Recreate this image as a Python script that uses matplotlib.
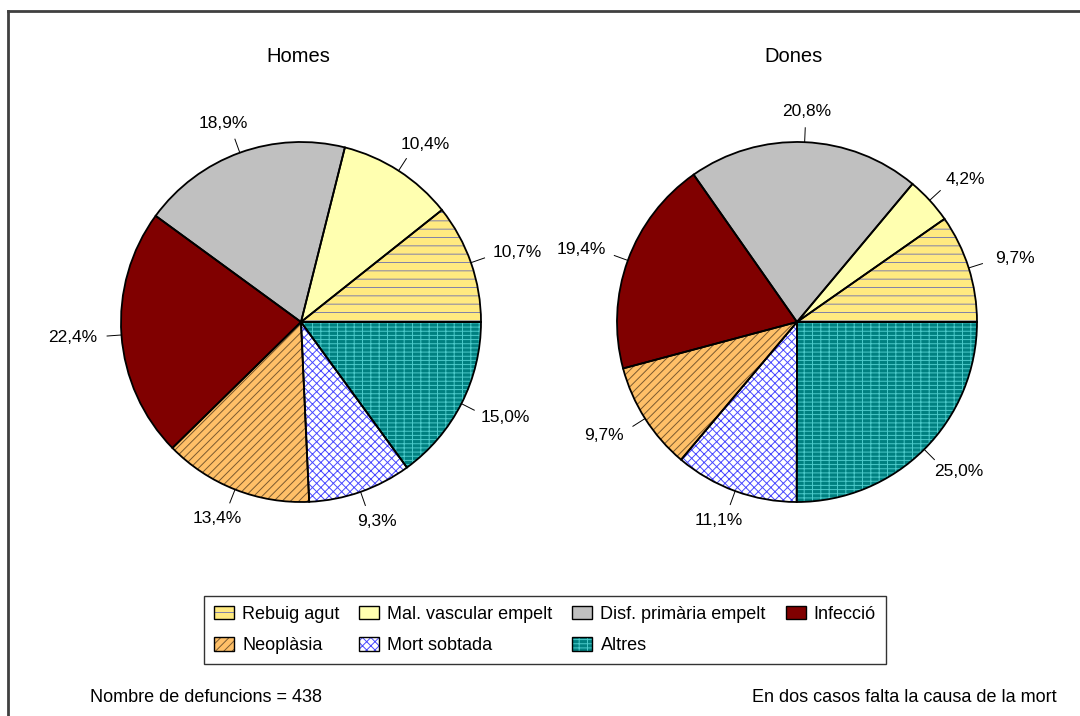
import numpy as np
import matplotlib
matplotlib.use("Agg")
import matplotlib.pyplot as plt
from matplotlib.patches import Patch
from matplotlib.lines import Line2D

plt.rcParams['font.family'] = ['Liberation Sans', 'DejaVu Sans']
plt.rcParams['hatch.linewidth'] = 0.7

# data
categories = ['Rebuig agut', 'Mal. vascular empelt', 'Disf. primària empelt', 'Infecció',
              'Neoplàsia', 'Mort sobtada', 'Altres']
homes = [10.7, 10.4, 18.9, 22.4, 13.4, 9.3, 15.0]
dones = [9.7, 4.2, 20.8, 19.4, 9.7, 11.1, 25.0]
titles = ['Homes', 'Dones']
note_left = 'Nombre de defuncions = 438'
note_right = 'En dos casos falta la causa de la mort'

# styles
faces = ['#FFEA80', '#FFFFB0', '#C0C0C0', '#800000', '#FFC068', '#FFFFFF', '#008080']
hatch_cols = ['#8080A8', '#FFFFB0', '#C0C0C0', '#800000', '#7A5A30', '#4848FF', '#4CCACA']
hatches = ['--', None, None, None, '////', 'xxxx', '----||']

W, H = 1080, 716
fig = plt.figure(figsize=(W / 100, H / 100), dpi=100)
ax = fig.add_axes([0, 0, 1, 1])

centers = [(301, H - 322), (797, H - 322)]
R = 180


def draw_pie(vals, center, title):
    wedges, _ = ax.pie(vals, colors=faces, startangle=0, counterclock=True,
                       center=center, radius=R, hatch=hatches,
                       wedgeprops=dict(linewidth=0))
    for w, hc in zip(wedges, hatch_cols):
        w.set_edgecolor(hc)
    outl, _ = ax.pie(vals, colors=faces, startangle=0, counterclock=True,
                     center=center, radius=R,
                     wedgeprops=dict(fill=False, edgecolor='black', linewidth=1.3))
    cx, cy = center
    for w, v in zip(outl, vals):
        th = np.deg2rad((w.theta1 + w.theta2) / 2)
        c, s = np.cos(th), np.sin(th)
        ax.plot([cx + R * c, cx + 1.08 * R * c], [cy + R * s, cy + 1.08 * R * s],
                color='black', lw=0.7)
        tx = cx + 1.1 * R * c + 31 * c
        ty = cy + 1.1 * R * s + 13 * s
        ax.text(tx, ty, f'{v:.1f}%'.replace('.', ','), ha='center', va='center',
                fontsize=12.5)
    ax.text(cx - 3, H - 57, title, ha='center', va='center', fontsize=14.5)


draw_pie(homes, centers[0], titles[0])
draw_pie(dones, centers[1], titles[1])

ax.set_aspect('auto')
ax.set_xlim(0, W)
ax.set_ylim(0, H)
ax.axis('off')

# legend (row-major order)
handles = []
for f, hc, h in zip(faces, hatch_cols, hatches):
    p1 = Patch(facecolor=f, edgecolor=hc, hatch=h, linewidth=0)
    p2 = Patch(facecolor='none', edgecolor='black', linewidth=1.0)
    handles.append((p1, p2))
order = [0, 4, 1, 5, 2, 6, 3]
leg = fig.legend([handles[i] for i in order], [categories[i] for i in order],
                 ncol=4, loc='center', bbox_to_anchor=(545 / W, 1 - 630 / H),
                 fontsize=13, frameon=True, fancybox=False, edgecolor='black',
                 handlelength=1.1, handleheight=0.75, handletextpad=0.45,
                 columnspacing=1.1, labelspacing=0.8, borderpad=0.55)
leg.get_frame().set_linewidth(1.0)

fig.text(90 / W, 1 - 697 / H, note_left, ha='left', va='center', fontsize=13)
fig.text(1057 / W, 1 - 697 / H, note_right, ha='right', va='center', fontsize=13)

# outer border (top and left)
fig.add_artist(Line2D([8 / W, 1], [1 - 11 / H, 1 - 11 / H], transform=fig.transFigure,
                      color='#404040', lw=2))
fig.add_artist(Line2D([8 / W, 8 / W], [0, 1 - 11 / H], transform=fig.transFigure,
                      color='#404040', lw=2))

fig.savefig('out.png', dpi=100, facecolor='white')
